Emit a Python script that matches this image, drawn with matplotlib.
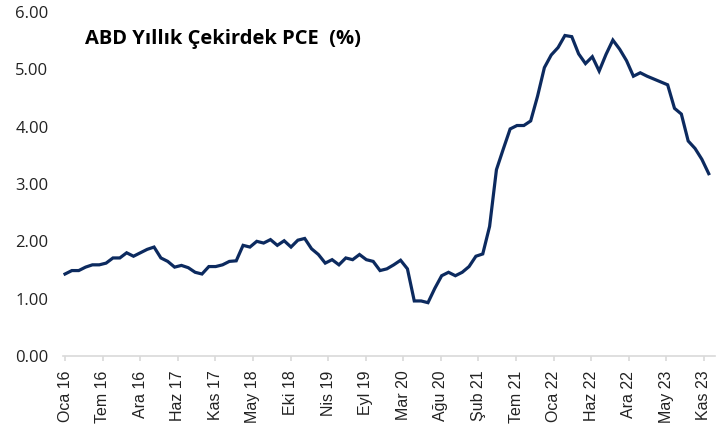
import numpy as np
import matplotlib.pyplot as plt

# ABD yillik cekirdek PCE, aylik (Oca 2016 - Kas 2023)
pce = [1.43, 1.49, 1.49, 1.55, 1.59, 1.59, 1.62, 1.71, 1.71, 1.80,
       1.74, 1.80, 1.86, 1.90, 1.71, 1.65, 1.55, 1.58, 1.54, 1.46,
       1.43, 1.56, 1.56, 1.59, 1.65, 1.66, 1.93, 1.90, 2.00, 1.97,
       2.03, 1.93, 2.01, 1.90, 2.02, 2.05, 1.87, 1.77, 1.62, 1.68,
       1.59, 1.71, 1.68, 1.77, 1.68, 1.65, 1.49, 1.52, 1.59, 1.67,
       1.52, 0.96, 0.96, 0.93, 1.18, 1.40, 1.46, 1.40, 1.46, 1.56,
       1.74, 1.78, 2.26, 3.25, 3.61, 3.96, 4.02, 4.02, 4.10, 4.53,
       5.03, 5.25, 5.38, 5.59, 5.57, 5.27, 5.10, 5.22, 4.97, 5.26,
       5.51, 5.35, 5.15, 4.88, 4.94, 4.88, 4.83, 4.78, 4.73, 4.32,
       4.22, 3.75, 3.62, 3.43, 3.18]

tick_labels = ["Oca 16", "Tem 16", "Ara 16", "Haz 17", "Kas 17", "May 18",
               "Eki 18", "Nis 19", "Eyl 19", "Mar 20", "Ağu 20", "Şub 21",
               "Tem 21", "Oca 22", "Haz 22", "Ara 22", "May 23", "Kas 23"]

plt.rcParams['font.family'] = ['Open Sans', 'DejaVu Sans']

fig = plt.figure(figsize=(7.28, 4.36), dpi=100)
ax = fig.add_axes([0.0865, 0.1835, 0.8955, 0.789])

x = np.arange(len(pce))
ax.plot(x, pce, color='#0c2a5f', linewidth=2.3, solid_joinstyle='miter')

ax.set_ylim(0, 6)
ax.set_yticks(np.arange(0, 7, 1))
ax.set_yticklabels([f"{v:.2f}" for v in np.arange(0, 7, 1)])
ax.set_xlim(-0.3, 94.9)

# etiketler esit aralikli (Excel tarih ekseni gibi)
ax.set_xticks(np.linspace(0, 93.3, len(tick_labels)))
ax.set_xticklabels(tick_labels, rotation=90, family=['Liberation Sans', 'DejaVu Sans'])

for s in ['top', 'right', 'left']:
    ax.spines[s].set_visible(False)
ax.spines['bottom'].set_color('#d9d9d9')
ax.spines['bottom'].set_linewidth(1.2)
ax.tick_params(axis='y', length=0, labelsize=12, colors='#222222', pad=10.5)
ax.tick_params(axis='x', length=3.6, width=1.2, color='#d9d9d9',
               labelsize=11.5, labelcolor='#222222', pad=7)

ax.text(0.034, 0.907, "ABD Yıllık Çekirdek PCE  (%)", transform=ax.transAxes,
        fontsize=14.5, fontweight='bold', color='black', va='baseline', ha='left')

fig.savefig("out.png", dpi=100)
